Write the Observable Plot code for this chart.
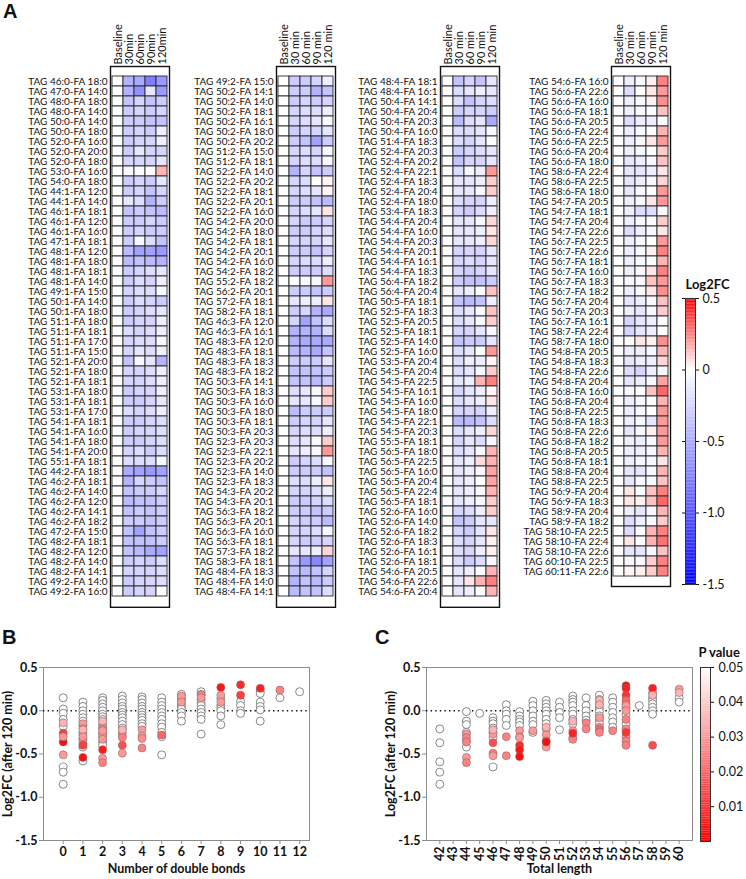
<!DOCTYPE html>
<html><head><meta charset="utf-8">
<script src="https://cdn.jsdelivr.net/npm/d3@7"></script>
<script src="https://cdn.jsdelivr.net/npm/@observablehq/plot@0.6"></script>
<style>
body{margin:0;background:#fff;}
#root{position:relative;width:746px;height:879px;overflow:hidden;background:#fff;font-family:Lato,"Liberation Sans",sans-serif;}
#root svg{position:absolute;}
.pl{position:absolute;font-family:"Liberation Sans",Arial,sans-serif;font-weight:bold;font-size:20px;line-height:20px;color:#111;}
</style></head><body><div id="root"></div><script>
// ---------- data ----------
const times1 = ["Baseline","30min","60min","90min","120min"];
const times2 = ["Baseline","30 min","60 min","90 min","120 min"];

const heatCol1 = [
["TAG 46:0-FA 18:0",0,-0.45,-0.5,-0.75,-0.6],
["TAG 47:0-FA 14:0",0,-0.45,-0.65,-0.15,-0.6],
["TAG 48:0-FA 18:0",0,-0.35,-0.25,-0.35,-0.3],
["TAG 48:0-FA 14:0",0,-0.3,-0.25,-0.3,-0.25],
["TAG 50:0-FA 14:0",0,-0.3,-0.3,-0.35,-0.35],
["TAG 50:0-FA 18:0",0,-0.3,-0.25,-0.3,-0.1],
["TAG 52:0-FA 16:0",0,-0.3,-0.25,-0.25,-0.1],
["TAG 52:0-FA 20:0",0,-0.3,-0.15,-0.25,-0.25],
["TAG 52:0-FA 18:0",0,-0.25,-0.25,-0.25,-0.15],
["TAG 53:0-FA 16:0",0,-0.05,-0.03,0,0.15],
["TAG 54:0-FA 18:0",0,-0.3,-0.25,-0.3,-0.15],
["TAG 44:1-FA 12:0",0,-0.3,-0.25,-0.35,-0.25],
["TAG 44:1-FA 14:0",0,-0.15,-0.2,-0.45,-0.3],
["TAG 46:1-FA 18:1",0,-0.35,-0.3,-0.35,-0.4],
["TAG 46:1-FA 12:0",0,-0.3,-0.3,-0.25,-0.3],
["TAG 46:1-FA 16:0",0,-0.3,-0.25,-0.3,-0.3],
["TAG 47:1-FA 18:1",0,-0.3,-0.05,-0.2,-0.35],
["TAG 48:1-FA 12:0",0,-0.4,-0.55,-0.55,-0.6],
["TAG 48:1-FA 18:0",0,-0.4,-0.35,-0.4,-0.45],
["TAG 48:1-FA 18:1",0,-0.3,-0.25,-0.2,-0.15],
["TAG 48:1-FA 14:0",0,-0.3,-0.2,-0.25,-0.1],
["TAG 49:1-FA 15:0",0,-0.25,-0.2,-0.2,-0.05],
["TAG 50:1-FA 14:0",0,-0.3,-0.2,-0.25,-0.3],
["TAG 50:1-FA 18:0",0,-0.3,-0.25,-0.2,-0.15],
["TAG 51:1-FA 18:0",0,-0.3,-0.25,-0.25,-0.1],
["TAG 51:1-FA 18:1",0,-0.2,-0.25,-0.2,-0.1],
["TAG 51:1-FA 17:0",0,-0.25,-0.2,-0.2,-0.05],
["TAG 51:1-FA 15:0",0,-0.25,-0.15,-0.2,-0.1],
["TAG 52:1-FA 20:0",0,-0.35,-0.05,-0.15,-0.45],
["TAG 52:1-FA 18:0",0,-0.25,-0.25,-0.2,-0.1],
["TAG 52:1-FA 18:1",0,-0.25,-0.25,-0.2,-0.1],
["TAG 53:1-FA 18:0",0,-0.3,-0.25,-0.25,-0.1],
["TAG 53:1-FA 18:1",0,-0.3,-0.3,-0.25,-0.15],
["TAG 53:1-FA 17:0",0,-0.2,-0.25,-0.2,-0.1],
["TAG 54:1-FA 18:1",0,-0.3,-0.3,-0.25,-0.2],
["TAG 54:1-FA 16:0",0,-0.3,-0.25,-0.25,-0.2],
["TAG 54:1-FA 18:0",0,-0.3,-0.3,-0.25,-0.2],
["TAG 54:1-FA 20:0",0,-0.25,-0.2,-0.3,-0.2],
["TAG 55:1-FA 18:1",0,-0.2,-0.2,-0.2,-0.05],
["TAG 44:2-FA 18:1",0,-0.5,-0.55,-0.6,-0.55],
["TAG 46:2-FA 18:1",0,-0.45,-0.25,-0.3,-0.35],
["TAG 46:2-FA 14:0",0,-0.35,-0.3,-0.3,-0.25],
["TAG 46:2-FA 12:0",0,-0.4,-0.35,-0.35,-0.3],
["TAG 46:2-FA 14:1",0,-0.35,-0.3,-0.35,-0.3],
["TAG 46:2-FA 18:2",0,-0.3,-0.3,-0.35,-0.3],
["TAG 47:2-FA 15:0",0,-0.35,-0.55,-0.35,-0.3],
["TAG 48:2-FA 18:1",0,-0.35,-0.35,-0.35,-0.3],
["TAG 48:2-FA 12:0",0,-0.35,-0.4,-0.5,-0.55],
["TAG 48:2-FA 14:0",0,-0.3,-0.25,-0.3,-0.2],
["TAG 48:2-FA 14:1",0,-0.25,-0.25,-0.25,-0.2],
["TAG 49:2-FA 14:0",0,-0.3,-0.25,-0.25,-0.2],
["TAG 49:2-FA 16:0",0,-0.3,-0.25,-0.25,-0.02]
];

const heatCol2 = [
["TAG 49:2-FA 15:0",0,-0.3,-0.3,-0.25,-0.1],
["TAG 50:2-FA 14:1",0,-0.3,-0.3,-0.45,-0.35],
["TAG 50:2-FA 14:0",0,-0.3,-0.25,-0.3,-0.25],
["TAG 50:2-FA 18:1",0,-0.25,-0.2,-0.2,-0.1],
["TAG 50:2-FA 16:1",0,-0.25,-0.2,-0.15,-0.05],
["TAG 50:2-FA 18:0",0,-0.3,-0.25,-0.25,-0.15],
["TAG 50:2-FA 20:2",0,-0.3,-0.35,-0.55,-0.3],
["TAG 51:2-FA 15:0",0,-0.25,-0.2,-0.25,-0.05],
["TAG 51:2-FA 18:1",0,-0.25,-0.2,-0.2,-0.05],
["TAG 52:2-FA 14:0",0,-0.45,-0.25,-0.35,-0.3],
["TAG 52:2-FA 20:2",0,-0.25,-0.2,0,0.02],
["TAG 52:2-FA 18:1",0,-0.25,-0.2,-0.15,0.02],
["TAG 52:2-FA 20:1",0,-0.3,-0.3,-0.35,-0.4],
["TAG 52:2-FA 16:0",0,-0.25,-0.2,-0.15,0.05],
["TAG 54:2-FA 20:0",0,-0.25,-0.3,-0.3,-0.25],
["TAG 54:2-FA 18:0",0,-0.3,-0.3,-0.25,-0.2],
["TAG 54:2-FA 18:1",0,-0.25,-0.25,-0.25,-0.15],
["TAG 54:2-FA 20:1",0,-0.3,-0.3,-0.35,-0.25],
["TAG 54:2-FA 16:0",0,-0.25,-0.2,-0.2,-0.1],
["TAG 54:2-FA 18:2",0,-0.3,-0.3,-0.3,-0.2],
["TAG 55:2-FA 18:2",0,-0.03,-0.05,-0.05,0.2],
["TAG 56:2-FA 20:1",0,-0.3,-0.3,-0.35,-0.3],
["TAG 57:2-FA 18:1",0,-0.15,-0.1,-0.1,0.05],
["TAG 58:2-FA 18:1",0,-0.3,-0.25,-0.45,-0.5],
["TAG 46:3-FA 12:0",0,-0.25,-0.55,-0.35,-0.2],
["TAG 46:3-FA 16:1",0,-0.45,-0.45,-0.45,-0.2],
["TAG 48:3-FA 12:0",0,-0.45,-0.5,-0.5,-0.5],
["TAG 48:3-FA 18:1",0,-0.4,-0.45,-0.5,-0.35],
["TAG 48:3-FA 18:3",0,-0.3,-0.3,-0.3,-0.15],
["TAG 48:3-FA 18:2",0,-0.35,-0.35,-0.35,-0.3],
["TAG 50:3-FA 14:1",0,-0.35,-0.35,-0.4,-0.3],
["TAG 50:3-FA 18:3",0,-0.2,-0.15,-0.05,0.1],
["TAG 50:3-FA 16:0",0,-0.15,-0.15,-0.05,0.1],
["TAG 50:3-FA 18:0",0,-0.4,-0.3,-0.3,-0.3],
["TAG 50:3-FA 18:1",0,-0.3,-0.25,-0.25,-0.15],
["TAG 50:3-FA 20:3",0,-0.25,-0.2,-0.2,-0.1],
["TAG 52:3-FA 20:3",0,-0.2,-0.15,-0.05,0.1],
["TAG 52:3-FA 22:1",0,-0.15,-0.1,-0.05,0.2],
["TAG 52:3-FA 20:2",0,-0.3,-0.25,-0.2,-0.05],
["TAG 52:3-FA 14:0",0,-0.3,-0.3,-0.3,-0.35],
["TAG 52:3-FA 18:3",0,-0.2,-0.2,-0.1,0.05],
["TAG 54:3-FA 20:2",0,-0.25,-0.25,-0.2,-0.1],
["TAG 54:3-FA 20:1",0,-0.3,-0.3,-0.25,-0.2],
["TAG 56:3-FA 18:2",0,-0.3,-0.3,-0.35,-0.3],
["TAG 56:3-FA 20:1",0,-0.25,-0.3,-0.3,-0.4],
["TAG 56:3-FA 16:0",0,-0.25,-0.25,-0.2,-0.05],
["TAG 56:3-FA 18:1",0,-0.25,-0.3,-0.3,-0.25],
["TAG 57:3-FA 18:2",0,-0.15,-0.15,-0.1,0.08],
["TAG 58:3-FA 18:1",0,-0.35,-0.6,-0.7,-0.55],
["TAG 48:4-FA 18:3",0,-0.35,-0.4,-0.35,-0.25],
["TAG 48:4-FA 14:0",0,-0.45,-0.35,-0.4,-0.3],
["TAG 48:4-FA 14:1",0,-0.4,-0.35,-0.35,-0.2]
];

const heatCol3 = [
["TAG 48:4-FA 18:1",0,-0.35,-0.25,-0.35,-0.15],
["TAG 48:4-FA 16:1",0,-0.2,-0.15,-0.1,-0.15],
["TAG 50:4-FA 14:1",0,-0.2,-0.35,-0.25,-0.2],
["TAG 50:4-FA 20:4",0,-0.3,-0.25,-0.25,-0.3],
["TAG 50:4-FA 20:3",0,-0.4,-0.2,-0.15,-0.5],
["TAG 50:4-FA 16:0",0,-0.2,-0.2,-0.15,-0.05],
["TAG 51:4-FA 18:3",0,-0.2,-0.25,-0.15,-0.02],
["TAG 52:4-FA 20:3",0,-0.3,-0.25,-0.2,-0.15],
["TAG 52:4-FA 20:2",0,-0.35,-0.25,-0.25,-0.15],
["TAG 52:4-FA 22:1",0,-0.2,-0.05,-0.1,0.2],
["TAG 52:4-FA 18:3",0,-0.15,-0.15,-0.1,0.1],
["TAG 52:4-FA 20:4",0,-0.15,-0.15,-0.05,0.1],
["TAG 52:4-FA 18:0",0,-0.2,-0.25,-0.25,-0.1],
["TAG 53:4-FA 18:3",0,-0.25,-0.3,-0.2,-0.1],
["TAG 54:4-FA 20:4",0,-0.15,-0.15,-0.05,0.08],
["TAG 54:4-FA 16:0",0,-0.15,-0.15,-0.1,0.05],
["TAG 54:4-FA 20:3",0,-0.15,-0.15,-0.1,0.08],
["TAG 54:4-FA 20:1",0,-0.25,-0.25,-0.25,-0.15],
["TAG 54:4-FA 16:1",0,-0.25,-0.2,-0.25,-0.15],
["TAG 54:4-FA 18:3",0,-0.25,-0.3,-0.25,-0.15],
["TAG 56:4-FA 18:2",0,-0.3,-0.35,-0.35,-0.3],
["TAG 56:4-FA 20:4",0,-0.15,-0.1,-0.02,0.12],
["TAG 50:5-FA 18:1",0,-0.35,-0.4,-0.35,-0.1],
["TAG 52:5-FA 18:3",0,-0.2,-0.15,-0.05,0.12],
["TAG 52:5-FA 20:5",0,-0.2,-0.15,-0.05,0.1],
["TAG 52:5-FA 18:1",0,-0.25,-0.25,-0.15,-0.05],
["TAG 52:5-FA 14:0",0,-0.35,-0.3,-0.3,-0.15],
["TAG 52:5-FA 16:0",0,-0.2,-0.15,0,0.2],
["TAG 53:5-FA 20:4",0,-0.2,-0.1,-0.1,0.02],
["TAG 54:5-FA 20:4",0,-0.2,-0.15,-0.05,0.1],
["TAG 54:5-FA 22:5",0,-0.15,-0.1,0.15,0.25],
["TAG 54:5-FA 16:1",0,-0.25,-0.15,-0.1,0.02],
["TAG 54:5-FA 16:0",0,-0.2,-0.15,-0.1,0.05],
["TAG 54:5-FA 18:0",0,-0.25,-0.25,-0.25,-0.1],
["TAG 54:5-FA 22:1",0,-0.4,-0.4,-0.35,-0.2],
["TAG 54:5-FA 20:3",0,-0.2,-0.15,-0.1,0.08],
["TAG 55:5-FA 18:1",0,-0.25,-0.15,-0.2,-0.05],
["TAG 56:5-FA 18:0",0,-0.2,-0.15,-0.05,0.15],
["TAG 56:5-FA 22:5",0,-0.15,-0.1,0.07,0.15],
["TAG 56:5-FA 16:0",0,-0.15,-0.1,-0.05,0.18],
["TAG 56:5-FA 20:4",0,-0.15,-0.1,0,0.18],
["TAG 56:5-FA 22:4",0,-0.15,-0.1,-0.05,0.15],
["TAG 56:5-FA 18:1",0,-0.15,-0.1,-0.05,0.1],
["TAG 52:6-FA 16:0",0,-0.25,-0.2,-0.1,0.1],
["TAG 52:6-FA 14:0",0,-0.35,-0.3,-0.15,-0.15],
["TAG 52:6-FA 18:2",0,-0.25,-0.3,-0.15,0.05],
["TAG 52:6-FA 18:3",0,-0.2,-0.25,-0.15,0.03],
["TAG 52:6-FA 16:1",0,-0.2,-0.25,-0.1,0.03],
["TAG 52:6-FA 18:1",0,-0.2,-0.3,-0.2,-0.05],
["TAG 54:6-FA 20:5",0,-0.15,-0.1,-0.02,0.15],
["TAG 54:6-FA 22:6",0,-0.15,0.05,0.15,0.25],
["TAG 54:6-FA 20:4",0,-0.15,-0.1,0,0.15]
];

const heatCol4 = [
["TAG 54:6-FA 16:0",0,-0.1,-0.05,0.03,0.25],
["TAG 56:6-FA 22:6",0,-0.2,0,0.05,0.2],
["TAG 56:6-FA 16:0",0,-0.1,-0.05,0.03,0.22],
["TAG 56:6-FA 18:1",0,-0.1,-0.05,-0.03,0.12],
["TAG 56:6-FA 20:5",0,-0.2,-0.1,-0.1,-0.02],
["TAG 56:6-FA 22:4",0,-0.1,-0.05,-0.02,0.15],
["TAG 56:6-FA 22:5",0,-0.1,-0.05,0.05,0.2],
["TAG 56:6-FA 20:4",0,-0.1,-0.05,-0.02,0.1],
["TAG 56:6-FA 18:0",0,-0.15,-0.1,-0.05,0.12],
["TAG 58:6-FA 22:4",0,-0.15,-0.15,-0.1,0.05],
["TAG 58:6-FA 22:5",0,-0.15,-0.1,-0.05,0.08],
["TAG 58:6-FA 18:0",0,-0.15,-0.05,-0.02,0.2],
["TAG 54:7-FA 20:5",0,-0.1,-0.05,0.05,0.2],
["TAG 54:7-FA 18:1",0,-0.1,-0.2,-0.2,-0.05],
["TAG 54:7-FA 20:4",0,-0.1,-0.05,-0.02,0.1],
["TAG 54:7-FA 22:6",0,-0.2,-0.1,-0.05,0.05],
["TAG 56:7-FA 22:5",0,-0.1,-0.05,0,0.2],
["TAG 56:7-FA 22:6",0,-0.1,-0.05,0.03,0.25],
["TAG 56:7-FA 18:1",0,-0.1,-0.05,-0.02,0.15],
["TAG 56:7-FA 16:0",0,-0.1,-0.05,0.05,0.25],
["TAG 56:7-FA 18:3",0,-0.05,-0.05,0.12,0.2],
["TAG 56:7-FA 18:2",0,-0.1,-0.05,0.05,0.22],
["TAG 56:7-FA 20:4",0,-0.15,-0.1,-0.05,0.12],
["TAG 56:7-FA 20:3",0,-0.1,-0.15,-0.05,0.1],
["TAG 56:7-FA 16:1",0,-0.25,-0.15,-0.1,-0.03],
["TAG 58:7-FA 22:4",0,-0.25,-0.15,-0.1,0],
["TAG 58:7-FA 18:0",0,-0.03,0.05,0.03,0.22],
["TAG 54:8-FA 20:5",0,-0.1,-0.1,-0.05,0.15],
["TAG 54:8-FA 18:3",0,-0.15,-0.1,-0.1,0.08],
["TAG 54:8-FA 22:6",0,-0.2,-0.25,-0.1,-0.05],
["TAG 54:8-FA 20:4",0,-0.15,-0.1,-0.05,0.18],
["TAG 56:8-FA 16:0",0,-0.05,0,0.12,0.3],
["TAG 56:8-FA 20:4",0,-0.1,-0.05,-0.02,0.15],
["TAG 56:8-FA 22:5",0,-0.1,-0.05,0,0.2],
["TAG 56:8-FA 18:3",0,-0.1,-0.05,-0.15,0.2],
["TAG 56:8-FA 22:6",0,-0.15,-0.05,0.03,0.2],
["TAG 56:8-FA 18:2",0,-0.1,-0.1,-0.05,0.2],
["TAG 56:8-FA 20:5",0,-0.1,-0.1,-0.05,0.15],
["TAG 56:8-FA 18:1",0,-0.1,-0.05,-0.05,0.05],
["TAG 58:8-FA 20:4",0,-0.15,-0.15,-0.05,0.15],
["TAG 58:8-FA 22:5",0,-0.15,-0.05,-0.05,0.12],
["TAG 56:9-FA 20:4",0,0.05,-0.02,0.12,0.25],
["TAG 56:9-FA 18:3",0,0.05,0.03,0.12,0.3],
["TAG 58:9-FA 20:4",0,-0.1,-0.15,-0.05,0.15],
["TAG 58:9-FA 18:2",0,-0.2,-0.1,-0.05,0.1],
["TAG 58:10-FA 22:5",0,-0.2,-0.02,0.15,0.25],
["TAG 58:10-FA 22:4",0,0.05,-0.02,0.15,0.28],
["TAG 58:10-FA 22:6",0,-0.15,-0.15,-0.05,0.12],
["TAG 60:10-FA 22:5",0,-0.05,-0.05,0.1,0.25],
["TAG 60:11-FA 22:6",0,0.02,0.03,0.1,0.25]
];

const log2fcTicks = [0.5, 0, -0.5, -1, -1.5];
const pTicks = [0.05, 0.04, 0.03, 0.02, 0.01];
const doubleBonds = [0,1,2,3,4,5,6,7,8,9,10,11,12];
const totalLengths = [42,43,44,45,46,47,48,49,50,51,52,53,54,55,56,57,58,59,60];

// Panel B: [double bonds, log2FC]  (not significant)
const bOpen = [
[0,0.15],[0,0.02],[0,-0.03],[0,-0.1],[0,-0.18],[0,-0.65],[0,-0.71],[0,-0.85],
[1,0.1],[1,0.05],[1,0],[1,-0.04],[1,-0.08],[1,-0.12],[1,-0.17],[1,-0.25],[1,-0.32],[1,-0.38],[1,-0.42],[1,-0.58],
[2,0.15],[2,0.12],[2,0.08],[2,0.04],[2,0],[2,-0.04],[2,-0.07],[2,-0.1],[2,-0.16],[2,-0.19],[2,-0.26],[2,-0.3],[2,-0.36],[2,-0.4],
[3,0.17],[3,0.13],[3,0.09],[3,0.05],[3,0.02],[3,-0.02],[3,-0.05],[3,-0.08],[3,-0.12],[3,-0.16],[3,-0.2],
[4,0.16],[4,0.13],[4,0.09],[4,0.05],[4,0.02],[4,-0.02],[4,-0.05],[4,-0.08],[4,-0.11],[4,-0.15],[4,-0.18],
[5,0.15],[5,0.1],[5,0.06],[5,0.02],[5,-0.02],[5,-0.06],[5,-0.1],[5,-0.15],[5,-0.19],[5,-0.25],[5,-0.3],[5,-0.51],
[6,0.19],[6,0.15],[6,0.12],[6,0.08],[6,0.05],[6,0.02],[6,-0.02],[6,-0.06],[6,-0.12],
[7,0.22],[7,0.19],[7,0.13],[7,0.09],[7,0.06],[7,0.02],[7,-0.02],[7,-0.06],[7,-0.1],[7,-0.27],
[8,0.14],[8,0.06],[8,0.03],[8,0],[8,-0.06],[8,-0.16],
[9,0.11],[9,0.06],[9,0],[9,-0.03],
[10,0.23],[10,0.2],[10,0.1],[10,0.05],[10,0.01],[10,-0.12],
[11,0.15],[12,0.22]
];
// Panel B: [double bonds, log2FC, P value]  (significant)
const bSig = [
[0,-0.14,0.035],[0,-0.26,0.012],[0,-0.36,0.002],[0,-0.51,0.03],[0,-0.3,0.03],
[1,-0.15,0.03],[1,-0.21,0.025],[1,-0.28,0.03],[1,-0.34,0.025],[1,-0.4,0.012],[1,-0.54,0.003],[1,-0.22,0.035],[1,-0.3,0.03],
[2,-0.12,0.035],[2,-0.21,0.025],[2,-0.27,0.03],[2,-0.33,0.03],[2,-0.45,0.005],[2,-0.55,0.03],[2,-0.6,0.025],[2,-0.23,0.03],
[3,-0.25,0.03],[3,-0.29,0.03],[3,-0.31,0.025],[3,-0.4,0.015],[3,-0.49,0.03],[3,-0.22,0.035],
[4,-0.22,0.03],[4,-0.29,0.03],[4,-0.32,0.028],[4,-0.43,0.025],
[5,-0.28,0.02],
[6,0.17,0.03],[6,0.1,0.03],
[7,0.18,0.025],[7,0.15,0.03],
[8,0.27,0.004],[8,0.18,0.03],[8,0.1,0.03],
[9,0.3,0.008],[9,0.18,0.012],
[10,0.26,0.006],
[11,0.24,0.025]
];

// Panel C: [total length, log2FC]  (not significant)
const cOpen = [
[42,-0.21],[42,-0.37],[42,-0.59],[42,-0.71],[42,-0.85],
[44,-0.01],[44,-0.12],[44,-0.16],[44,-0.25],[44,-0.35],[44,-0.42],
[45,-0.03],
[46,-0.08],[46,-0.12],[46,-0.15],[46,-0.2],[46,-0.25],[46,-0.31],[46,-0.65],
[47,0.07],[47,0],[47,-0.04],[47,-0.1],[47,-0.17],
[48,-0.01],[48,-0.06],[48,-0.1],[48,-0.13],[48,-0.17],
[49,0.11],[49,0.06],[49,0],[49,-0.06],[49,-0.12],[49,-0.16],[49,-0.25],
[50,0.12],[50,0.08],[50,0.04],[50,0],[50,-0.04],[50,-0.1],[50,-0.15],[50,-0.21],
[51,0.1],[51,0.04],[51,-0.02],[51,-0.08],[51,-0.22],
[52,0.17],[52,0.13],[52,0.1],[52,0.06],[52,0],[52,-0.04],[52,-0.1],[52,-0.15],
[53,0.15],[53,0.06],[53,0],[53,-0.06],[53,-0.11],
[54,0.18],[54,0.13],[54,0.08],[54,0.03],[54,-0.01],[54,-0.06],[54,-0.11],[54,-0.15],
[55,0.15],[55,0.1],[55,0.04],[55,-0.02],[55,-0.08],[55,-0.13],[55,-0.19],
[56,0.08],[56,0.03],[56,-0.04],[56,-0.15],
[57,0.06],
[58,0.21],[58,0.15],[58,0.12],[58,0.08],[58,0.04],[58,0],[58,-0.04],
[60,0.15],[60,0.1]
];
// Panel C: [total length, log2FC, P value]  (significant)
const cSig = [
[44,-0.27,0.03],[44,-0.31,0.025],[44,-0.36,0.025],[44,-0.54,0.03],[44,-0.6,0.025],
[46,-0.27,0.03],[46,-0.37,0.015],[46,-0.49,0.025],[46,-0.52,0.03],[46,-0.22,0.035],
[47,-0.3,0.025],[47,-0.52,0.025],
[48,-0.23,0.03],[48,-0.3,0.03],[48,-0.4,0.008],[48,-0.45,0.004],[48,-0.53,0.002],[48,-0.31,0.03],
[49,-0.23,0.03],
[50,-0.19,0.035],[50,-0.28,0.03],[50,-0.35,0.02],[50,-0.42,0.03],[50,-0.36,0.002],
[52,-0.12,0.035],[52,-0.23,0.03],[52,-0.31,0.03],[52,-0.33,0.025],[52,-0.26,0.006],
[53,-0.14,0.025],[53,-0.21,0.025],
[54,0.12,0.035],[54,0.07,0.035],[54,-0.08,0.03],[54,-0.19,0.025],[54,-0.22,0.02],[54,-0.25,0.025],
[55,-0.23,0.025],
[56,0.29,0.003],[56,0.26,0.006],[56,0.18,0.01],[56,0.12,0.02],[56,0.06,0.03],[56,0,0.03],[56,-0.1,0.025],[56,-0.21,0.025],[56,-0.3,0.03],[56,-0.35,0.025],[56,-0.4,0.025],[56,-0.25,0.01],
[58,0.26,0.006],[58,0.18,0.035],[58,-0.4,0.015],
[60,0.25,0.03],[60,0.21,0.035]
];

// ---------- drawing ----------
const root = document.getElementById("root");
const heatColor = {type:"linear", domain:[-1.5,0,0.5], range:["#0000ff","#ffffff","#ff0000"], clamp:true};
const pColor = {type:"linear", domain:[0,0.05], range:["#ff0000","#ffffff"], clamp:true};
const ROW = 10.4;

function place(svg, left, top){ svg.style.left = left+"px"; svg.style.top = top+"px"; root.appendChild(svg); }
function letter(t, left, top){ const d=document.createElement("div"); d.className="pl"; d.textContent=t; d.style.left=left+"px"; d.style.top=top+"px"; root.appendChild(d); }

function heatmap(rows, times, left){
  const data = rows.flatMap(r => times.map((t,i)=>({name:r[0], time:t, v:r[i+1]})));
  const h = Math.ceil(66 + rows.length*ROW + 3);
  const svg = Plot.plot({
    width:173, height:h,
    marginLeft:110, marginRight:4, marginTop:66, marginBottom: h - 66 - rows.length*ROW,
    x:{domain:times, padding:0}, y:{domain:rows.map(r=>r[0]), padding:0},
    color: heatColor,
    style:{fontFamily:"Lato, sans-serif", fontSize:"10px", color:"#111", background:"transparent", overflow:"visible"},
    marks:[
      Plot.cell(data,{x:"time", y:"name", fill:"v", stroke:"#2a2a2a", strokeWidth:0.9, inset:0}),
      Plot.frame({stroke:"#111", strokeWidth:1.4}),
      Plot.axisY({tickSize:0, tickPadding:3, label:null}),
      Plot.axisX({anchor:"top", tickSize:0, tickPadding:2, tickRotate:-90, label:null, fontSize:11})
    ]
  });
  place(svg, left, 0);
}
heatmap(heatCol1, times1, 0);
heatmap(heatCol2, times2, 166);
heatmap(heatCol3, times2, 330);
heatmap(heatCol4, times2, 501);

// Log2FC colour bar
{
  const steps = d3.range(-1.5, 0.5, 0.01);
  const svg = Plot.plot({
    width:76, height:324, marginLeft:15, marginRight:51, marginTop:28, marginBottom:10,
    x:{domain:[0,1], axis:null}, y:{domain:[-1.5,0.5]},
    color: heatColor,
    style:{fontFamily:"Lato, sans-serif", fontSize:"12.5px", color:"#111", background:"transparent", overflow:"visible"},
    marks:[
      Plot.rect(steps,{x1:0, x2:1, y1:d=>d, y2:d=>d+0.0105, fill:d=>d+0.005}),
      Plot.frame({stroke:"#333", strokeWidth:1}),
      Plot.axisY({anchor:"right", ticks:log2fcTicks, tickSize:3, tickPadding:4, tickFormat:d=> d===0 ? "0" : d.toFixed(1), label:null}),
      Plot.axisY({anchor:"left", ticks:log2fcTicks, tickSize:3, tickFormat:()=>"", label:null}),
      Plot.text(["Log2FC"],{frameAnchor:"top-left", text:d=>d, dy:-19, textAnchor:"start", fontWeight:"bold", fontSize:13})
    ]
  });
  place(svg, 670, 270);
}

function scatter(open, sig, opts){
  return Plot.plot({
    width:opts.width, height:239, marginLeft:opts.ml, marginRight:opts.mr, marginTop:27, marginBottom:39,
    x:{domain:opts.xdomain}, y:{domain:[-1.5,0.5]},
    color: pColor,
    style:{fontFamily:"Lato, sans-serif", fontSize:"12.5px", fontWeight:"bold", color:"#111", background:"transparent", overflow:"visible"},
    marks:[
      Plot.frame({stroke:"#8c8c8c", strokeWidth:1}),
      Plot.ruleY([0],{stroke:"#111", strokeWidth:1.6, strokeDasharray:"1.4,3.2"}),
      Plot.dot(open,{x:d=>d[0], y:d=>d[1], r:4, fill:"white", stroke:"#6a6a6a", strokeWidth:0.8}),
      Plot.dot(sig,{x:d=>d[0], y:d=>d[1], r:4, fill:d=>d[2], stroke:"#8a6a6a", strokeWidth:0.6}),
      Plot.axisY({ticks:log2fcTicks, tickFormat:d=>d.toFixed(1), tickSize:4, tickPadding:2, stroke:"#8c8c8c",
        label:"Log2FC (after 120 min)", labelAnchor:"center", labelOffset:opts.ylo, labelArrow:"none"}),
      Plot.axisX({ticks:opts.ticks, tickFormat:d=>String(d), tickSize:4, tickPadding:opts.tp, tickRotate:opts.rot, stroke:"#8c8c8c",
        label:opts.xlabel, labelAnchor:"center", labelOffset:32, labelArrow:"none"})
    ]
  });
}
place(scatter(bOpen, bSig, {width:320, ml:43, mr:11, xdomain:[-1,12.5], ticks:doubleBonds, rot:0, tp:3, ylo:40, xlabel:"Number of double bonds"}), 0, 640);
place(scatter(cOpen, cSig, {width:373, ml:53, mr:54, xdomain:[41,61], ticks:totalLengths, rot:-90, tp:2, ylo:40, xlabel:"Total length"}), 373, 640);

// P value colour bar
{
  const steps = d3.range(0, 0.05, 0.0005);
  const svg = Plot.plot({
    width:66, height:239, marginLeft:20, marginRight:36, marginTop:27, marginBottom:38,
    x:{domain:[0,1], axis:null}, y:{domain:[0,0.05]},
    color: pColor,
    style:{fontFamily:"Lato, sans-serif", fontSize:"12.5px", color:"#111", background:"transparent", overflow:"visible"},
    marks:[
      Plot.rect(steps,{x1:0, x2:1, y1:d=>d, y2:d=>d+0.00052, fill:d=>d+0.00025}),
      Plot.frame({stroke:"#333", strokeWidth:1}),
      Plot.axisY({anchor:"right", ticks:pTicks, tickSize:3, tickPadding:5, tickFormat:d=>d.toFixed(2), label:null}),
      Plot.text(["P value"],{frameAnchor:"top-left", text:d=>d, dy:-20, dx:-2, textAnchor:"start", fontWeight:"bold", fontSize:13})
    ]
  });
  place(svg, 680, 640);
}

letter("A", 3, 1);
letter("B", 2, 627);
letter("C", 375, 627);
</script></body></html>
